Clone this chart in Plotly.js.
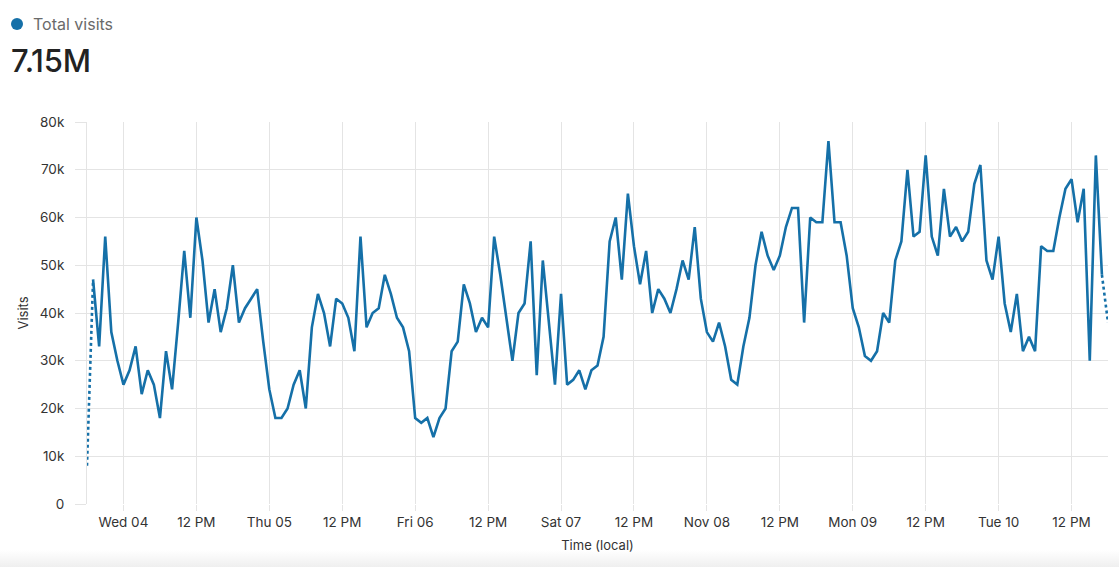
<!DOCTYPE html>
<html>
<head>
<meta charset="utf-8">
<script src="https://cdn.plot.ly/plotly-3.0.1.min.js"></script>
<style>
  html, body { margin: 0; padding: 0; }
  body {
    width: 1119px; height: 567px; overflow: hidden; position: relative;
    background: linear-gradient(to bottom, #ffffff 0px, #ffffff 550px, #efefef 567px);
    font-family: Inter, "Noto Sans", sans-serif;
  }
  #header { position: absolute; left: 0; top: 0; width: 400px; height: 100px; z-index: 2; }
  #dot { position: absolute; left: 11px; top: 18px; width: 12px; height: 12px; border-radius: 50%; background: #1570a8; }
  #series { position: absolute; left: 33px; top: 14px; font-size: 16px; color: #6a6a6a; }
  #total { position: absolute; left: 11px; top: 42px; font-size: 31px; font-weight: 500; color: #222; letter-spacing: -0.2px; }
  #chart { position: absolute; left: 0; top: 0; }
</style>
</head>
<body>
<div id="chart"></div>
<div id="header">
  <div id="dot"></div>
  <div id="series">Total visits</div>
  <div id="total">7.15M</div>
</div>
<script>
// ---- data ----
const seriesName = "Total visits";
const totalLabel = "7.15M";
const startTime = "2020-11-03T18:00"; // first hourly bucket (local time)
const stepHours = 1;
// hourly visits, in thousands
const visitsK = [
  8, 47, 33, 56, 36, 30, 25, 28, 33, 23,
  28, 25, 18, 32, 24, 38, 53, 39, 60, 51,
  38, 45, 36, 41, 50, 38, 41, 43, 45, 34,
  24, 18, 18, 20, 25, 28, 20, 37, 44, 40,
  33, 43, 42, 39, 32, 56, 37, 40, 41, 48,
  44, 39, 37, 32, 18, 17, 18, 14, 18, 20,
  32, 34, 46, 42, 36, 39, 37, 56, 48, 39,
  30, 40, 42, 55, 27, 51, 38, 25, 44, 25,
  26, 28, 24, 28, 29, 35, 55, 60, 47, 65,
  54, 46, 53, 40, 45, 43, 40, 45, 51, 47,
  58, 43, 36, 34, 38, 33, 26, 25, 33, 39,
  50, 57, 52, 49, 52, 58, 62, 62, 38, 60,
  59, 59, 76, 59, 59, 52, 41, 37, 31, 30,
  32, 40, 38, 51, 55, 70, 56, 57, 73, 56,
  52, 66, 56, 58, 55, 57, 67, 71, 51, 47,
  56, 42, 36, 44, 32, 35, 32, 54, 53, 53,
  60, 66, 68, 59, 66, 30, 73, 48, 38
];
const tickTimes = [
  "2020-11-04 00:00", "2020-11-04 12:00", "2020-11-05 00:00", "2020-11-05 12:00",
  "2020-11-06 00:00", "2020-11-06 12:00", "2020-11-07 00:00", "2020-11-07 12:00",
  "2020-11-08 00:00", "2020-11-08 12:00", "2020-11-09 00:00", "2020-11-09 12:00",
  "2020-11-10 00:00", "2020-11-10 12:00"
];
const tickLabels = [
  "Wed 04", "12 PM", "Thu 05", "12 PM", "Fri 06", "12 PM", "Sat 07", "12 PM",
  "Nov 08", "12 PM", "Mon 09", "12 PM", "Tue 10", "12 PM"
];
const yTickVals = [0, 10000, 20000, 30000, 40000, 50000, 60000, 70000, 80000];
const yTickText = ["0", "10k", "20k", "30k", "40k", "50k", "60k", "70k", "80k"];

// ---- build ----
function pad(n) { return (n < 10 ? "0" : "") + n; }
function fmt(d) {
  return d.getUTCFullYear() + "-" + pad(d.getUTCMonth() + 1) + "-" + pad(d.getUTCDate()) +
    " " + pad(d.getUTCHours()) + ":" + pad(d.getUTCMinutes());
}
const t0 = Date.parse(startTime + ":00Z");
const times = visitsK.map((_, i) => fmt(new Date(t0 + i * stepHours * 3600e3)));
const visits = visitsK.map(v => v * 1000);

const n = visits.length;
const color = "#1570a8";
const grid = "#e4e4e4";
const font = { family: "Inter, 'Noto Sans', sans-serif", size: 13, color: "#333" };

const traces = [
  { x: times.slice(0, 2), y: visits.slice(0, 2), mode: "lines", name: seriesName,
    line: { color: color, width: 2.6, dash: "dot" }, hoverinfo: "skip", showlegend: false },
  { x: times.slice(1, n - 1), y: visits.slice(1, n - 1), mode: "lines", name: seriesName,
    line: { color: color, width: 2.6 }, showlegend: false },
  { x: times.slice(n - 2), y: visits.slice(n - 2), mode: "lines", name: seriesName,
    line: { color: color, width: 2.6, dash: "dot" }, hoverinfo: "skip", showlegend: false }
];

const layout = {
  width: 1119, height: 567,
  margin: { l: 87, r: 11, t: 122, b: 63, pad: 0 },
  paper_bgcolor: "rgba(0,0,0,0)", plot_bgcolor: "#ffffff",
  font: font,
  showlegend: false,
  xaxis: {
    type: "date",
    range: [times[0], times[n - 1]],
    tickmode: "array", tickvals: tickTimes, ticktext: tickLabels,
    showgrid: true, gridcolor: grid, gridwidth: 1,
    ticks: "outside", ticklen: 6, tickcolor: grid,
    showline: false, zeroline: false,
    tickfont: { size: 13.5, color: "#333" },
    title: { text: "Time (local)", font: { size: 13, color: "#333" }, standoff: 11 },
    automargin: false, fixedrange: true
  },
  yaxis: {
    range: [0, 80000],
    tickmode: "array", tickvals: yTickVals, ticktext: yTickText,
    showgrid: true, gridcolor: grid, gridwidth: 1,
    ticks: "outside", ticklen: 11, tickcolor: grid,
    showline: true, linecolor: grid, linewidth: 1,
    zeroline: false,
    ticklabelstandoff: 8,
    tickfont: { size: 13.5, color: "#333" },
    title: { text: "Visits", font: { size: 13, color: "#333" }, standoff: 8 },
    automargin: false, fixedrange: true
  }
};

Plotly.newPlot("chart", traces, layout, { displayModeBar: false, staticPlot: true });
</script>
</body>
</html>
